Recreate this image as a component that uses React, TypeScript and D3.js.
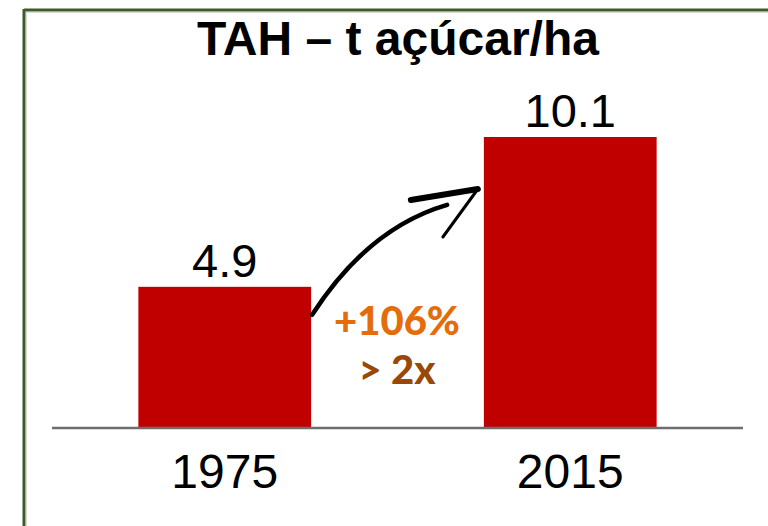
import React from 'react';
import * as d3 from 'd3';

const years = ['1975', '2015'];
const values = [4.9, 10.1];
const valueLabels = ['4.9', '10.1'];
const title = 'TAH – t açúcar/ha';
const growthLabel = '+106%';
const ratioLabel = '> 2x';

const W = 768;
const H = 526;

const App: React.FC = () => {
  const x = d3
    .scaleBand<string>()
    .domain(years)
    .range([52, 743])
    .paddingInner(0.5)
    .paddingOuter(0.25);

  const baseY = 428;
  const y = d3.scaleLinear().domain([0, 10.1]).range([baseY, 137]);

  // arrow anchored on the two bars
  const x0 = (x(years[0]) ?? 0) + x.bandwidth() + 1;
  const y0 = y(values[0]) + 28;
  const tipX = (x(years[1]) ?? 0) - 6;
  const tipY = y(values[1]) + 52;
  const shaft = d3.path();
  shaft.moveTo(x0, y0);
  shaft.quadraticCurveTo(x0 + 56, y0 - 87, x0 + 135, y0 - 110);

  const midX = (x0 + tipX) / 2 + 2;

  return (
    <div style={{ position: 'absolute', left: 0, top: 0 }}>
      <svg width={W} height={H} style={{ display: 'block', background: '#fff' }}>
        {/* frame */}
        <line x1={24} x2={W} y1={10} y2={10} stroke="#3f5a2a" strokeWidth={3} />
        <line x1={24} x2={24} y1={9} y2={H} stroke="#3f5a2a" strokeWidth={3} />
        <line x1={26} x2={W} y1={12.5} y2={12.5} stroke="#d8dcd4" strokeWidth={1} />
        <line x1={26.5} x2={26.5} y1={12} y2={H} stroke="#d8dcd4" strokeWidth={1} />

        <text
          x={398}
          y={55}
          textAnchor="middle"
          fontFamily="'Liberation Sans', Arial, sans-serif"
          fontWeight="bold"
          fontSize={48}
          fill="#000"
        >
          {title}
        </text>

        {years.map((yr, i) => (
          <g key={yr}>
            <rect
              x={x(yr)}
              y={y(values[i])}
              width={x.bandwidth()}
              height={baseY - y(values[i])}
              fill="#c00000"
            />
            <text
              x={(x(yr) ?? 0) + x.bandwidth() / 2}
              y={y(values[i]) - 10}
              textAnchor="middle"
              fontFamily="'Liberation Sans', Arial, sans-serif"
              fontSize={47}
              fill="#000"
            >
              {valueLabels[i]}
            </text>
            <text
              x={(x(yr) ?? 0) + x.bandwidth() / 2}
              y={488}
              textAnchor="middle"
              fontFamily="'Liberation Sans', Arial, sans-serif"
              fontSize={48}
              fill="#000"
            >
              {yr}
            </text>
          </g>
        ))}

        <line x1={52} x2={743} y1={baseY} y2={baseY} stroke="#6e6e6e" strokeWidth={2.5} />

        {/* arrow */}
        <path d={shaft.toString()} fill="none" stroke="#000" strokeWidth={4.5} strokeLinecap="round" />
        <line x1={tipX - 67} y1={tipY + 11} x2={tipX} y2={tipY} stroke="#000" strokeWidth={6} strokeLinecap="round" />
        <line x1={tipX} y1={tipY} x2={tipX - 35} y2={tipY + 48} stroke="#000" strokeWidth={3} strokeLinecap="round" />

        <text
          x={midX}
          y={335}
          textAnchor="middle"
          fontFamily="Lato, 'Open Sans', sans-serif"
          fontWeight={900}
          fontSize={40}
          fill="#e46c0a"
        >
          {growthLabel}
        </text>
        <text
          x={midX}
          y={384}
          textAnchor="middle"
          fontFamily="Lato, 'Open Sans', sans-serif"
          fontWeight={900}
          fontSize={40}
          fill="#984807"
        >
          {ratioLabel}
        </text>
      </svg>
    </div>
  );
};

export default App;
